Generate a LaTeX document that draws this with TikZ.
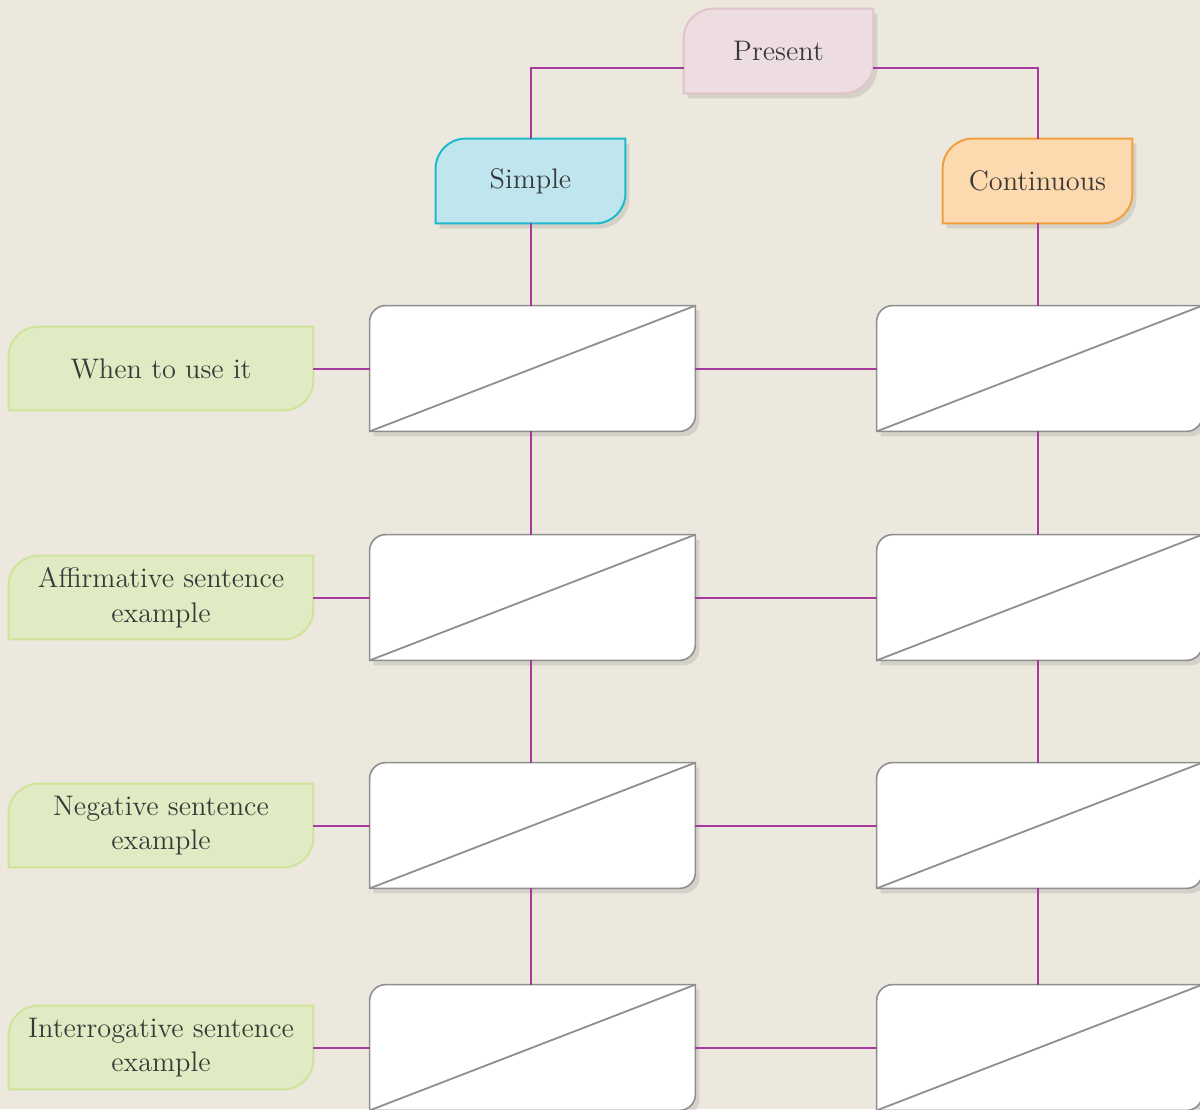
\documentclass[tikz,border=0pt]{standalone}
\usepackage{tikz}
\usetikzlibrary{positioning, calc, shadows, backgrounds}
\definecolor{PaperBG}{HTML}{ECE8DD}
\definecolor{PresentFill}{HTML}{EDDDE0}
\definecolor{PresentLine}{HTML}{E0C4CB}
\definecolor{SimpleFill}{HTML}{BFE6EE}
\definecolor{SimpleLine}{HTML}{1DB9CC}
\definecolor{ContFill}{HTML}{FDD9AF}
\definecolor{ContLine}{HTML}{F2A03D}
\definecolor{RowFill}{HTML}{E1EBC3}
\definecolor{RowLine}{HTML}{CFE39A}
\definecolor{BoxLine}{HTML}{8F8F8F}
\definecolor{LinkPurple}{HTML}{A43A9C}
\definecolor{TextGrey}{HTML}{383838}

\begin{document}
\begin{tikzpicture}[
  x=0.5bp, y=-0.5bp,
  every node/.style={font=\fontsize{14.2}{17.5}\selectfont, text=TextGrey, inner sep=0pt},
  heading/.style={rectangle, minimum width=94.5bp, minimum height=42bp},
  rowlabel/.style={rectangle, minimum width=152bp, minimum height=41.5bp, align=center},
  answer/.style={rectangle, minimum width=162.5bp, minimum height=62.5bp},
  link/.style={draw=LinkPurple, line width=1bp},
  diag/.style={draw=BoxLine, line width=0.9bp},
  shade/.style={drop shadow={shadow xshift=2bp, shadow yshift=-2.5bp, opacity=0.22}}
]
\useasboundingbox (0,0) rectangle (1200,1109);
\clip (0,0) rectangle (1200,1109);

% headings
\node[heading] (present) at (778.5,51) {Present};
\node[heading] (simple) at (530.5,181) {Simple};
\node[heading] (cont) at (1037.5,181) {Continuous};

% row labels
\node[rowlabel] (when) at (161,368.5) {When to use it};
\node[rowlabel] (affirm) at (161,597.5) {Affirmative sentence\\example};
\node[rowlabel] (neg) at (161,825.5) {Negative sentence\\example};
\node[rowlabel] (quest) at (161,1047.5) {Interrogative sentence\\example};

% answer boxes
\foreach \r/\y in {1/368.5, 2/597.5, 3/825.5, 4/1047.5} {
  \node[answer] (s\r) at (532.5,\y) {};
  \node[answer] (c\r) at (1039.5,\y) {};
}

\draw[link] ([yshift=-8.5bp]present.west) -| (simple.north);
\draw[link] ([yshift=-8.5bp]present.east) -| (cont.north);
\draw[link] (simple.south) -- (simple.south |- s1.north);
\draw[link] (cont.south) -- (cont.south |- c1.north);
\foreach \a/\b in {1/2, 2/3, 3/4} {
  \draw[link] (s\a.south -| simple) -- (s\b.north -| simple);
  \draw[link] (c\a.south -| cont) -- (c\b.north -| cont);
}
\foreach \lab [count=\r] in {when, affirm, neg, quest} {
  \draw[link] (\lab) -- (s\r);
  \draw[link] (s\r) -- (c\r);
}

\begin{scope}[on background layer]
  \fill[PaperBG] (0,0) rectangle (1200,1109);
  \foreach \n/\rad/\col/\sh in {present/15bp/Present/shade, simple/15bp/Simple/shade, cont/15bp/Cont/shade,
      when/15bp/Row/, affirm/15bp/Row/, neg/15bp/Row/, quest/15bp/Row/}
    \filldraw[fill=\col Fill, draw=\col Line, line width=1bp, \sh]
      (\n.south west) -- ([yshift=-\rad]\n.north west) arc[start angle=180, end angle=90, radius=\rad]
      -- (\n.north east) -- ([yshift=\rad]\n.south east) arc[start angle=0, end angle=-90, radius=\rad] -- cycle;
  \foreach \n in {s1, s2, s3, s4, c1, c2, c3, c4}
    \filldraw[fill=white, draw=BoxLine, line width=0.8bp, shade]
      (\n.south west) -- ([yshift=-8bp]\n.north west) arc[start angle=180, end angle=90, radius=8bp]
      -- (\n.north east) -- ([yshift=8bp]\n.south east) arc[start angle=0, end angle=-90, radius=8bp] -- cycle;
\end{scope}

% diagonals
\foreach \n in {s1, s2, s3, s4, c1, c2, c3, c4}
  \draw[diag] (\n.south west) -- (\n.north east);
\end{tikzpicture}
\end{document}
